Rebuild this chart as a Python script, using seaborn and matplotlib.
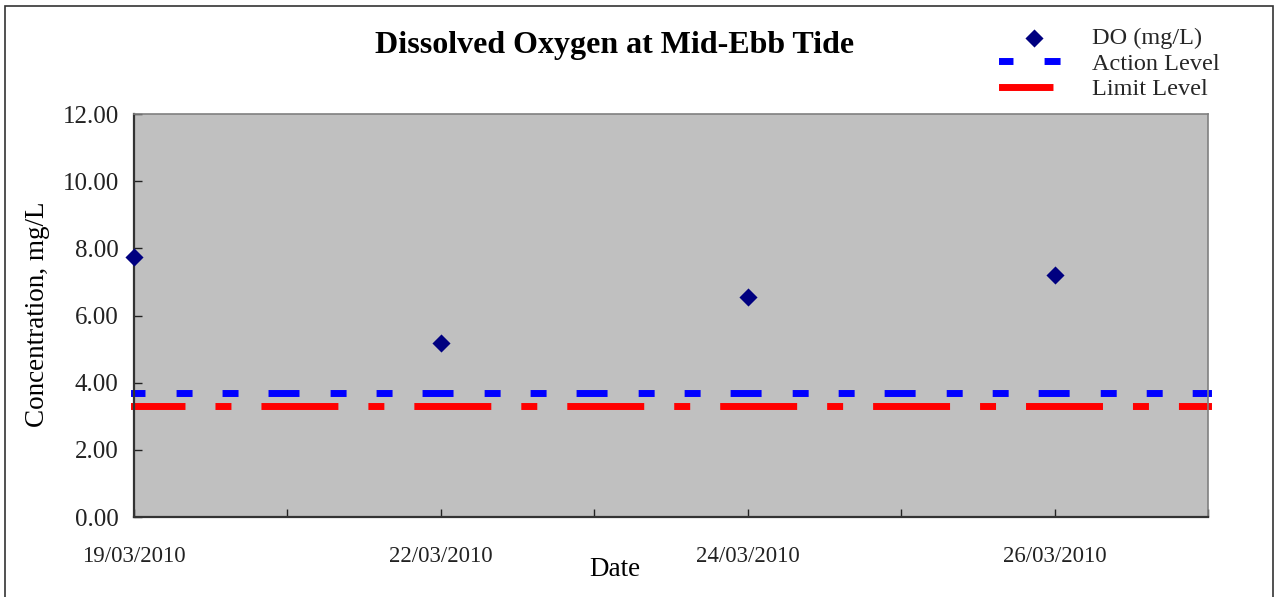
import seaborn as sns
import pandas as pd
import numpy as np
from matplotlib import pyplot as plt
from matplotlib.patches import Rectangle

# data
dates = ["19/03/2010", "22/03/2010", "24/03/2010", "26/03/2010"]
do_values = [7.74, 5.18, 6.55, 7.20]
action_level = 3.7
limit_level = 3.3
n_slots = 8  # category slots on the x axis, a label on every other one

sns.set_theme(style="ticks")
plt.rcParams['font.family'] = ['Liberation Serif', 'DejaVu Serif']
plt.rcParams['lines.scale_dashes'] = False

fig = plt.figure(figsize=(12.76, 5.97), dpi=100)
ax = fig.add_axes([134 / 1276, 80 / 597, 1074 / 1276, 403 / 597])
ax.set_facecolor("#C0C0C0")

df = pd.DataFrame({"slot": np.arange(len(dates)) * 2, "DO": do_values})
lv = pd.DataFrame({"slot": [0, n_slots - 1]})
lv["action"] = action_level
lv["limit"] = limit_level

sns.lineplot(data=lv, x="slot", y="limit", ax=ax, color="#FF0000", linewidth=5,
             label="Limit Level")
sns.lineplot(data=lv, x="slot", y="action", ax=ax, color="#0000FF", linewidth=5,
             label="Action Level")
red, blue = ax.lines[0], ax.lines[1]
# excel-like dash patterns (points)
blue.set_linestyle((11.9, (17.3, 27.4, 6.5, 26.6, 6.5, 26.6)))
red.set_linestyle((16.2, (50.4, 26.6, 6.5, 26.6)))
for ln in (red, blue):
    ln.set_dash_capstyle("projecting")
    ln.set_clip_on(False)

sns.scatterplot(data=df, x="slot", y="DO", ax=ax, marker="D", s=85, color="#000080",
                edgecolor="#000080", linewidth=0, label="DO (mg/L)", zorder=5, clip_on=False)

ax.set_xlim(0, n_slots - 1)
ax.set_ylim(0, 12)
ax.set_yticks(np.arange(0, 12.01, 2))
ax.set_yticklabels([f"{v:.2f}" for v in np.arange(0, 12.01, 2)])
ax.set_xticks(np.arange(n_slots))
xlabels = [""] * n_slots
for i, d in enumerate(dates):
    xlabels[i * 2] = d
ax.set_xticklabels(xlabels)
ax.tick_params(axis="y", direction="in", length=5.5, width=1, labelsize=18, pad=11, colors="#222222")
ax.tick_params(axis="x", direction="in", length=5.5, width=1, labelsize=16.5, pad=21, colors="#222222")

for s in ["left", "bottom"]:
    ax.spines[s].set_color("#333333")
    ax.spines[s].set_linewidth(1.6)
for s in ["top", "right"]:
    ax.spines[s].set_color("#808080")
    ax.spines[s].set_linewidth(1.2)

ax.set_xlabel("Date", fontsize=19.5, color="black")
ax.xaxis.set_label_coords(0.448, -0.131)
ax.xaxis.label.set_va("center")
ax.set_ylabel("Concentration, mg/L", fontsize=19.5, color="black")
ax.yaxis.set_label_coords(-0.0894, 0.504)
ax.yaxis.label.set_va("center")

fig.text(615 / 1276, 1 - 45 / 597, "Dissolved Oxygen at Mid-Ebb Tide", ha="center", va="center",
         fontsize=23, fontweight="bold", color="black")

handles, labels = ax.get_legend_handles_labels()
order = [labels.index("DO (mg/L)"), labels.index("Action Level"), labels.index("Limit Level")]
ax.legend([handles[i] for i in order], [labels[i] for i in order],
          loc="upper left", bbox_to_anchor=(1002 / 1276, 1 - 27 / 597), bbox_transform=fig.transFigure,
          frameon=False, fontsize=17.5, labelspacing=0.15, handlelength=2.6, handletextpad=1.1,
          borderaxespad=0, borderpad=0)

# chart area border
fig.patches.append(Rectangle((4.5 / 1276, -0.05), 1268 / 1276, 1.05 - 6.0 / 597, transform=fig.transFigure,
                             fill=False, edgecolor="#333333", linewidth=1.2))

fig.savefig("out.png", dpi=100)
